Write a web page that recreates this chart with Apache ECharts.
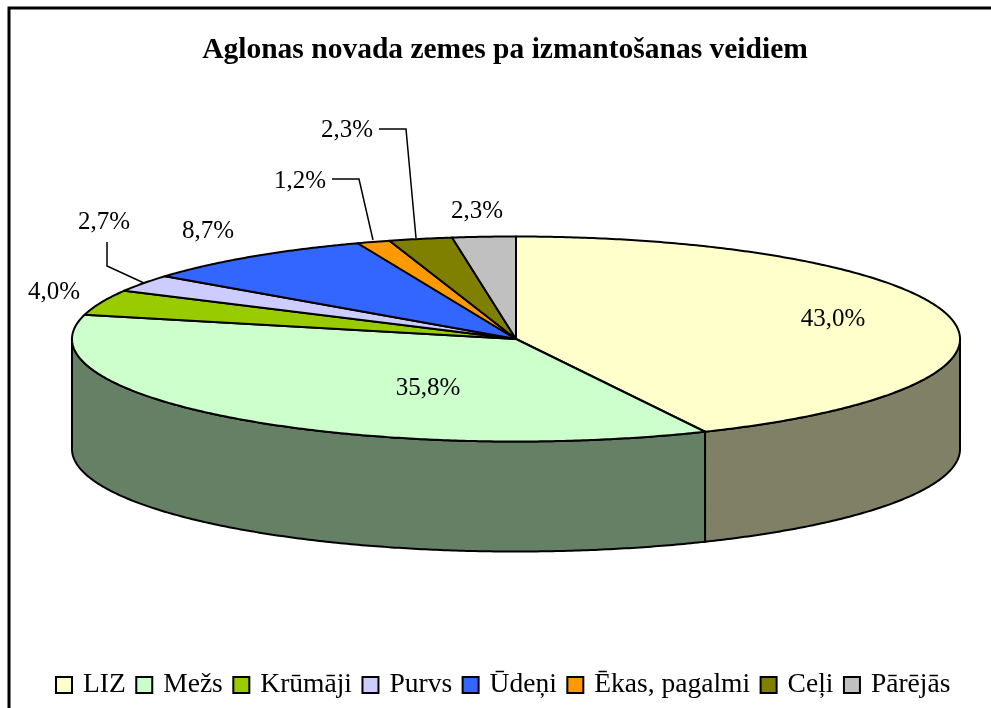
<!DOCTYPE html>
<html>
<head>
<meta charset="utf-8">
<style>
  html, body { margin: 0; padding: 0; background: #fff; }
  #main { width: 991px; height: 708px; }
</style>
<script src="https://cdn.jsdelivr.net/npm/echarts@6/dist/echarts.min.js"></script>
</head>
<body>
<div id="main"></div>
<script>
var categories = ['LIZ', 'Mežs', 'Krūmāji', 'Purvs', 'Ūdeņi', 'Ēkas, pagalmi', 'Ceļi', 'Pārējās']
var shares = [43.0, 35.8, 4.0, 2.7, 8.7, 1.2, 2.3, 2.3]
var colors = ['#FFFFCC', '#CCFFCC', '#99CC00', '#CCCCFF', '#3366FF', '#FF9900', '#808000', '#C0C0C0']

// pie drawn as a tilted disc
var cx = 516, cy = 339, rx = 444, ry = 102.5, depth = 110
var fontName = '"Liberation Serif", "Times New Roman", serif'

// where each percent label sits
var labelSpots = [[833, 319], [428, 388], [54, 292], [104, 222], [208, 231], [300, 181], [347, 130], [477, 211]]
var leaders = [
  [[107, 242], [107, 266], [144, 283]],
  [[332, 179], [359, 179], [373, 240]],
  [[379, 129], [406, 129], [416, 238]]
]

var total = shares.reduce(function (a, b) { return a + b }, 0)

function onRim (deg, dy) {
  var t = deg * Math.PI / 180
  return [cx + rx * Math.sin(t), cy - ry * Math.cos(t) + (dy || 0)]
}

function arcPoints (from, to, dy) {
  var pts = []
  for (var d = from; d < to; d += 0.5) pts.push(onRim(d, dy))
  pts.push(onRim(to, dy))
  return pts
}

function darken (hex) {
  var c = echarts.color.parse(hex)
  return 'rgb(' + Math.round(c[0] / 2) + ',' + Math.round(c[1] / 2) + ',' + Math.round(c[2] / 2) + ')'
}

function sliceSeries (name, i) {
  var start = 0
  for (var k = 0; k < i; k++) start += shares[k] / total * 360
  var end = start + shares[i] / total * 360
  return {
    type: 'custom',
    name: name,
    coordinateSystem: 'none',
    z: 2,
    silent: true,
    itemStyle: { color: colors[i], borderColor: '#000', borderWidth: 2 },
    data: [shares[i]],
    renderItem: function () {
      var children = []
      // only the front half of the rim shows a wall
      var wFrom = Math.max(start, 90), wTo = Math.min(end, 270)
      if (wTo > wFrom) {
        children.push({
          type: 'polygon',
          shape: { points: arcPoints(wFrom, wTo, 0).concat(arcPoints(wFrom, wTo, depth).reverse()) },
          style: { fill: darken(colors[i]), stroke: '#000', lineWidth: 2 }
        })
      }
      children.push({
        type: 'polygon',
        shape: { points: [[cx, cy]].concat(arcPoints(start, end, 0)) },
        style: { fill: colors[i], stroke: '#000', lineWidth: 2, lineJoin: 'round' }
      })
      return { type: 'group', children: children }
    }
  }
}

var labelSeries = {
  type: 'custom',
  name: 'labels',
  coordinateSystem: 'none',
  z: 5,
  silent: true,
  data: shares,
  renderItem: function (params, api) {
    var txt = api.value(0).toFixed(1).replace('.', ',') + '%'
    return {
      type: 'text',
      x: labelSpots[params.dataIndex][0],
      y: labelSpots[params.dataIndex][1],
      style: { text: txt, font: '25px ' + fontName, fill: '#000', align: 'center', verticalAlign: 'middle' }
    }
  }
}

var chart = echarts.init(document.getElementById('main'), null, { renderer: 'canvas' })
chart.setOption({
  animation: false,
  backgroundColor: '#fff',
  title: {
    text: 'Aglonas novada zemes pa izmantošanas veidiem',
    left: 500,
    top: 30,
    textAlign: 'center',
    textStyle: { fontFamily: fontName, fontSize: 29.5, fontWeight: 'bold', color: '#000' }
  },
  legend: {
    data: categories,
    left: 50,
    top: 666,
    itemWidth: 16,
    itemHeight: 16,
    itemGap: 9.5,
    icon: 'rect',
    selectedMode: false,
    textStyle: { fontFamily: fontName, fontSize: 27.5, color: '#000', padding: [0, 0, 0, 6] }
  },
  graphic: [
    {
      type: 'polyline',
      silent: true,
      shape: { points: [[9, 708], [9, 8], [991, 8]] },
      style: { fill: null, stroke: '#000', lineWidth: 3 }
    }
  ].concat(leaders.map(function (pts) {
    return {
      type: 'polyline',
      silent: true,
      z: 6,
      shape: { points: pts },
      style: { fill: null, stroke: '#000', lineWidth: 1.5 }
    }
  })),
  series: categories.map(sliceSeries).concat([labelSeries])
})
</script>
</body>
</html>
